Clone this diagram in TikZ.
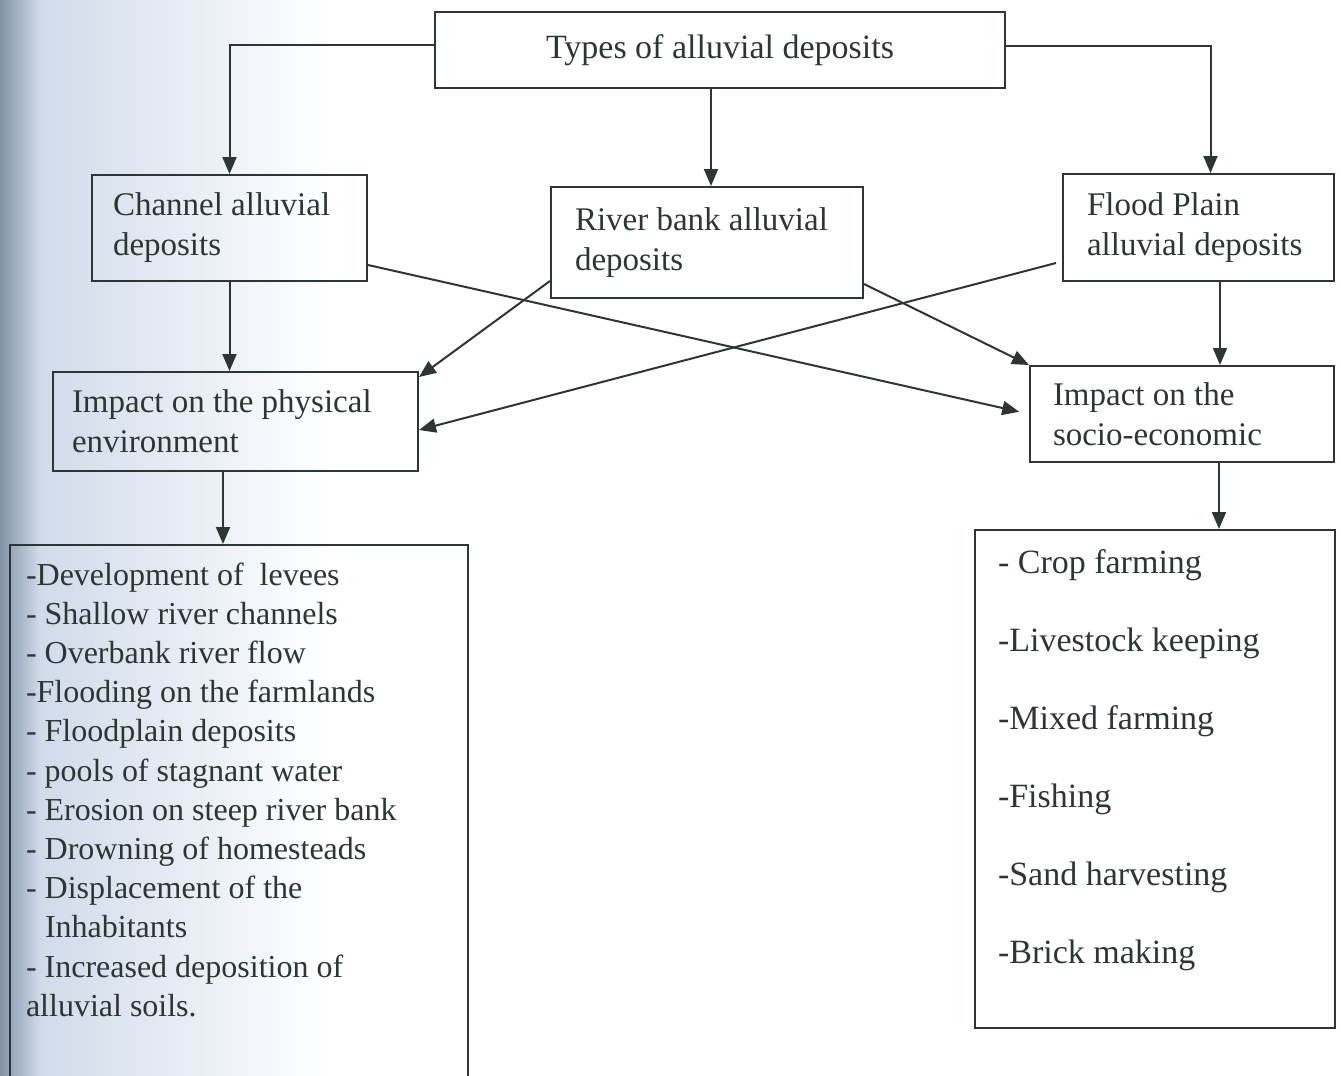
\documentclass[tikz,border=0pt]{standalone}
\usepackage{fontspec}
\setmainfont{Liberation Serif}
\usetikzlibrary{arrows.meta}
\definecolor{ink}{RGB}{44,54,50}
\definecolor{scanedge}{RGB}{130,146,168}
\definecolor{scanmid}{RGB}{208,219,234}
\tikzset{
  box/.style={draw=ink,line width=1pt,inner sep=0pt,align=flush left,text=ink},
  arr/.style={draw=ink,line width=1pt,-{Triangle[length=8.5pt,width=7pt]}}
}
\begin{document}
\begin{tikzpicture}[x=0.5pt,y=-0.5pt,font=\fontsize{16.5pt}{20pt}\selectfont]
  \useasboundingbox (0,0) rectangle (1341,1076);
  % shadow of the scan on the left edge
  \shade[left color=scanedge,right color=scanmid] (0,0) rectangle (40,1076);
  \shade[left color=scanmid,right color=white] (40,0) rectangle (330,1076);
  %--------- boxes
  \node[box,align=center,minimum width=285pt,minimum height=38pt] (types) at (720,50) {\fontsize{17pt}{20pt}\selectfont Types of alluvial deposits};
  \node[box,text width=116.5pt,minimum width=137.5pt,minimum height=53pt] (chan) at (229.5,228) {Channel alluvial\\deposits};
  \node[box,text width=132pt,minimum width=156pt,minimum height=55.5pt] (rb) at (707,242.5) {River bank alluvial\\deposits};
  \node[box,text width=111.5pt,minimum width=135.5pt,minimum height=53.5pt] (flood) at (1198.5,227.5) {Flood Plain\\alluvial deposits};
  \node[box,text width=163.5pt,minimum width=182.5pt,minimum height=49.5pt] (phys) at (235.5,421.5) {Impact on the physical\\environment};
  \node[box,text width=129pt,minimum width=152pt,minimum height=48pt] (socio) at (1182,414) {Impact on the\\socio-economic};
  %--------- lists
  \node[box,anchor=north west,inner xsep=8pt] (physlist) at (9,544) {\parbox[c][280pt][t]{213pt}{\fontsize{16pt}{19.6pt}\selectfont
    \rule{0pt}{20pt}-Development of~ levees\\
    - Shallow river channels\\
    - Overbank river flow\\
    -Flooding on the farmlands\\
    - Floodplain deposits\\
    - pools of stagnant water\\
    - Erosion on steep river bank\\
    - Drowning of homesteads\\
    - Displacement of the\\
    \hspace*{9.5pt}Inhabitants\\
    - Increased deposition of\\
    alluvial soils.}};
  \node[box,anchor=north west,inner xsep=11.5pt] (socilist) at (974,529) {\parbox[c][249pt][t]{157pt}{\fontsize{17pt}{39pt}\selectfont
    \rule{0pt}{21.5pt}- Crop farming\\
    -Livestock keeping\\
    -Mixed farming\\
    -Fishing\\
    -Sand harvesting\\
    -Brick making}};
  %--------- connectors
  \draw[arr] ([yshift=2.5pt]types.west) -| (chan.north);
  \draw[arr] ([yshift=2pt]types.east) -| ([xshift=6pt]flood.north);
  \coordinate (tdown) at ([xshift=-4.5pt]types.south);
  \draw[arr] (tdown) -- (tdown |- rb.north);
  \draw[arr] (chan.south) -- (chan.south |- phys.north);
  \draw[arr,shorten >=5pt] ([yshift=-18.5pt]chan.east) -- (socio.west);
  \draw[arr] ([yshift=9pt]rb.south west) -- ([yshift=-3pt]phys.north east);
  \draw[arr] ([yshift=7.5pt]rb.south east) -- (socio.north west);
  \draw[arr] ([xshift=-3pt,yshift=-17.75pt]flood.west) -- ([yshift=-4.25pt]phys.east);
  \coordinate (fdown) at ([xshift=10.75pt]flood.south);
  \draw[arr] (fdown) -- (fdown |- socio.north);
  \coordinate (pdown) at ([xshift=-6.25pt]phys.south);
  \draw[arr] (pdown) -- (pdown |- physlist.north);
  \coordinate (sdown) at ([xshift=18.5pt]socio.south);
  \draw[arr] (sdown) -- (sdown |- socilist.north);
\end{tikzpicture}
\end{document}
